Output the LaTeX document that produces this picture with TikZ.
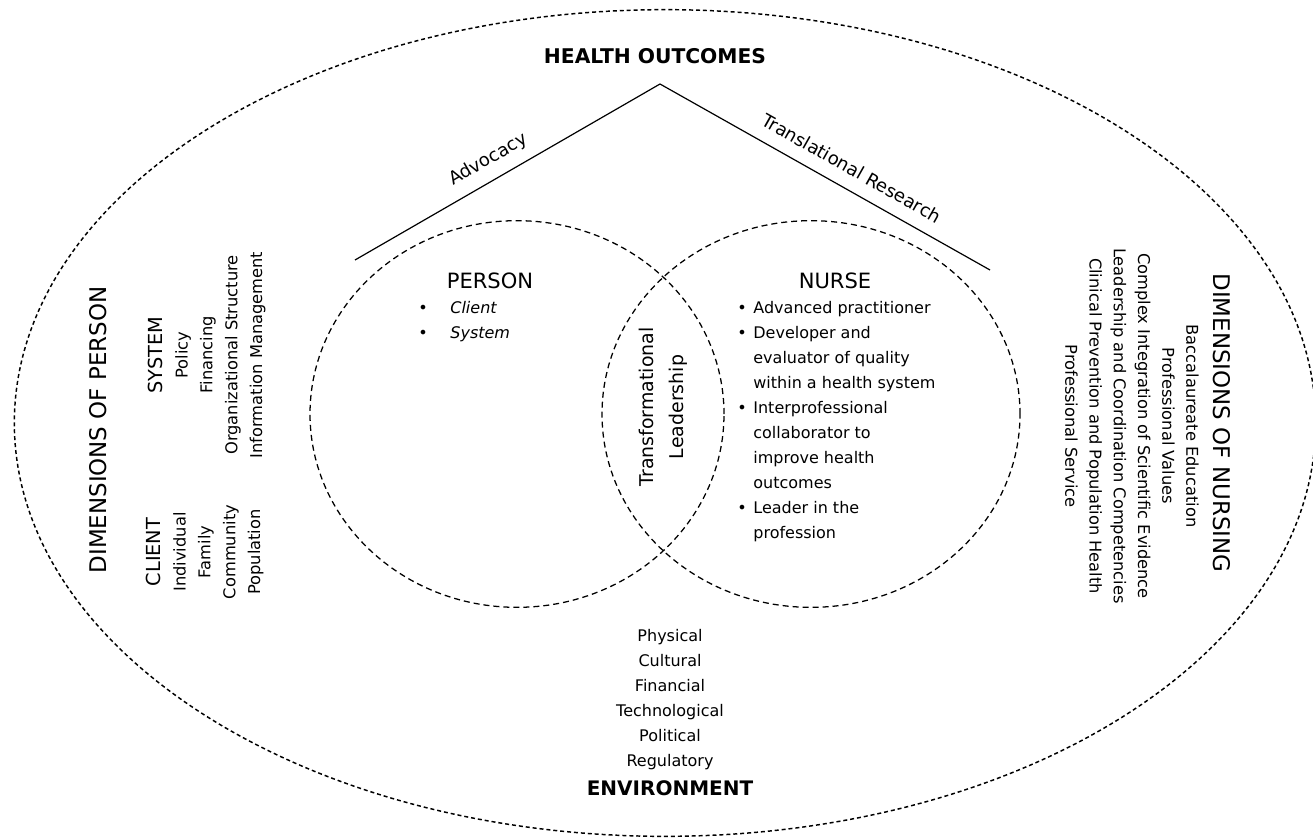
\documentclass[tikz,border=0pt]{standalone}
\usepackage{fontspec}
\setmainfont{DejaVu Sans}
\usetikzlibrary{shapes.geometric}
\begin{document}
\begin{tikzpicture}[x=0.75pt,y=-0.75pt,
  outerdash/.style={draw, line width=1.1pt, dash pattern=on 3pt off 2.2pt},
  dsh/.style={draw, line width=0.95pt, dash pattern=on 4.5pt off 3pt},
  solidline/.style={line width=0.9pt},
  txt/.style={inner sep=0pt, align=center, font=\fontsize{12}{18.75}\selectfont},
  slopetxt/.style={inner sep=0pt, font=\fontsize{13.5}{16}\selectfont},
  side/.style={inner sep=0pt, align=center, font=\fontsize{12.2}{18.6}\selectfont},
  head/.style={inner sep=0pt, font=\fontsize{15.2}{17}\selectfont\bfseries},
  title/.style={inner sep=0pt, font=\fontsize{15.8}{18}\selectfont},
  dim/.style={inner sep=0pt, font=\fontsize{17.2}{19}\selectfont}]
\useasboundingbox (0,0) rectangle (1313,839);

% outer ellipse
\draw[outerdash] (665,423) ellipse [x radius=488pt, y radius=310pt];

% circles (their overlap forms the lens)
\node[ellipse, dsh, minimum width=310.5pt, minimum height=290pt, inner sep=0pt] (person) at (517,414) {};
\node[ellipse, dsh, minimum width=313.5pt, minimum height=290pt, inner sep=0pt] (nurse) at (811,414) {};

% triangle lines
\coordinate (apex) at (660,84);
\coordinate (lend) at (355,260);
\coordinate (rend) at (990,270);
\draw[solidline] (apex) -- node[sloped, above=8pt, pos=0.53, slopetxt] (adv) {Advocacy} (lend);
\draw[solidline] (apex) -- node[sloped, above=10pt, pos=0.55, slopetxt] (trans) {Translational Research} (rend);

\node[head] (ho) at (655,56) {HEALTH OUTCOMES};

% person
\node[title] (pt) at (490,281) {PERSON};
\node[txt, anchor=west] (pl) at (418,321) {%
  \begin{tabular}{@{}l@{\hspace{17pt}}l@{}}
  \textbullet & \itshape Client\\
  \textbullet & \itshape System
  \end{tabular}};

% nurse
\node[title] (nt) at (835,281) {NURSE};
\node[txt, anchor=west] (nl) at (737,421) {%
  \begin{tabular}{@{}l@{\hspace{5pt}}l@{}}
  \textbullet & Advanced practitioner\\
  \textbullet & Developer and\\
   & evaluator of quality\\
   & within a health system\\
  \textbullet & Interprofessional\\
   & collaborator to\\
   & improve health\\
   & outcomes\\
  \textbullet & Leader in the\\
   & profession
  \end{tabular}};

% transformational leadership
\node[txt, rotate=90, font=\fontsize{14.2}{22.5}\selectfont] (tlt) at (663,407) {Transformational\\Leadership};

% dimensions of person
\node[dim, rotate=90] (dop) at (98,430) {DIMENSIONS OF PERSON};
\node[side, rotate=90] (sys) at (207,355) {{\fontsize{14.5}{18.6}\selectfont SYSTEM}\\Policy\\Financing\\Organizational Structure\\Information Management};
\node[side, rotate=90] (cli) at (205,552) {{\fontsize{14.5}{18.6}\selectfont CLIENT}\\Individual\\Family\\Community\\Population};

% dimensions of nursing
\node[dim, rotate=-90] (don) at (1222,423) {DIMENSIONS OF NURSING};
\node[side, rotate=-90, font=\fontsize{12.2}{18.15}\selectfont] (nursl) at (1132,426) {Baccalaureate Education\\Professional Values\\Complex Integration of Scientific Evidence\\Leadership and Coordination Competencies\\Clinical Prevention and Population Health\\Professional Service};

% environment
\node[txt] (envl) at (670,700) {Physical\\Cultural\\Financial\\Technological\\Political\\Regulatory};
\node[head, font=\fontsize{15}{18}\selectfont\bfseries] (env) at (670,788) {ENVIRONMENT};
\end{tikzpicture}
\end{document}
